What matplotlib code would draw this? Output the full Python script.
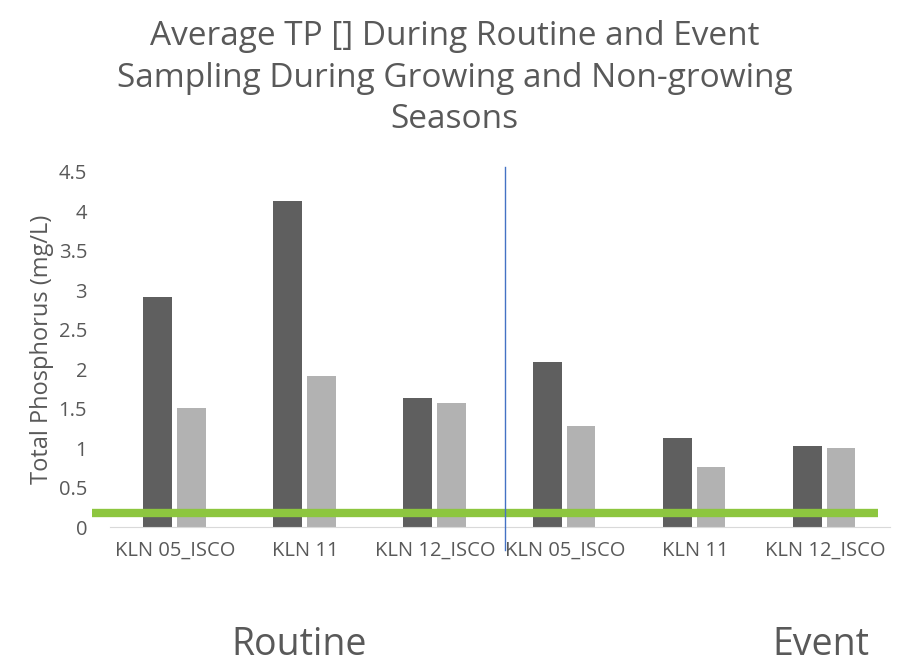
import numpy as np
from matplotlib import pyplot as plt

plt.rcParams['font.family'] = ['Open Sans', 'DejaVu Sans']

categories = ["KLN 05_ISCO", "KLN 11", "KLN 12_ISCO", "KLN 05_ISCO", "KLN 11", "KLN 12_ISCO"]
growing = [2.91, 4.13, 1.63, 2.09, 1.13, 1.03]
non_growing = [1.51, 1.91, 1.57, 1.28, 0.76, 1.00]
threshold = 0.18
groups = ["Routine", "Event"]

text_color = "#595959"
x = np.arange(len(categories))
width = 0.22

fig = plt.figure(figsize=(9.09, 6.63), dpi=100)
ax = fig.add_axes([0.121, 0.205, 0.858, 0.536])

ax.bar(x - 0.135, growing, width, color="#5f5f5f")
ax.bar(x + 0.125, non_growing, width, color="#b2b2b2")

# threshold line and routine/event divider
ax.plot([-0.64, 5.41], [threshold, threshold], color="#8dc63f", linewidth=6,
        solid_capstyle="butt", clip_on=False, zorder=3)
ax.plot([2.54, 2.54], [-0.29, 4.56], color="#4472c4", linewidth=1, clip_on=False, zorder=3)

ax.set_xlim(-0.5, 5.5)
ax.set_ylim(0, 4.5)
ax.set_yticks(np.arange(0, 4.51, 0.5))
ax.set_yticklabels(["0", "0.5", "1", "1.5", "2", "2.5", "3", "3.5", "4", "4.5"])
ax.set_xticks(x)
ax.set_xticklabels(categories)
ax.tick_params(length=0, labelsize=14.5, colors=text_color)
ax.tick_params(axis="x", pad=10)
ax.tick_params(axis="y", pad=16.5)
for side in ["top", "right", "left"]:
    ax.spines[side].set_visible(False)
ax.spines["bottom"].set_color("#d9d9d9")
ax.set_ylabel("Total Phosphorus (mg/L)", fontsize=17, color=text_color, labelpad=3)

fig.text(0.5, 0.882, "Average TP [] During Routine and Event\nSampling During Growing and Non-growing\nSeasons",
         ha="center", va="center", fontsize=24, color=text_color, linespacing=1.33)

fig.text(0.329, 0.027, groups[0], ha="center", va="center", fontsize=27, color=text_color)
fig.text(0.903, 0.027, groups[1], ha="center", va="center", fontsize=27, color=text_color)

plt.savefig("out.png", dpi=100)
